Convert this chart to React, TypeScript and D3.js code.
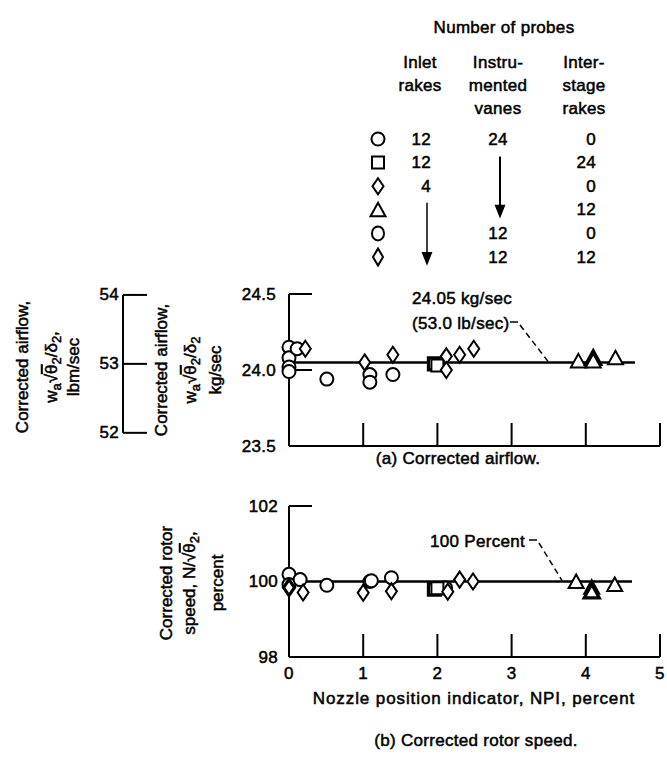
import React from "react";
import * as d3 from "d3";

// ---------- data ----------
const xTicks = [0, 1, 2, 3, 4, 5];
const airTicks = [24.5, 24.0, 23.5];
const lbmTicks = [54, 53, 52];
const rotorTicks = [102, 100, 98];

const airflowRef = 24.05;
const rotorRef = 100;

type Pt = { x: number; y: number; solid?: boolean };

const airCircles: Pt[] = [
  { x: 0, y: 24.15 }, { x: 0, y: 24.08 }, { x: 0, y: 24.02 }, { x: 0, y: 23.99 },
  { x: 0.11, y: 24.14 }, { x: 0.51, y: 23.94 }, { x: 1.09, y: 23.97 }, { x: 1.09, y: 23.92 },
  { x: 1.4, y: 23.97 },
];
const airSquares: Pt[] = [{ x: 1.96, y: 24.04, solid: true }, { x: 2.0, y: 24.03 }];
const airDiamonds: Pt[] = [
  { x: 0.22, y: 24.14 }, { x: 1.02, y: 24.05 }, { x: 1.4, y: 24.1 }, { x: 2.12, y: 24.09 },
  { x: 2.12, y: 24.0 }, { x: 2.3, y: 24.1 }, { x: 2.49, y: 24.14 },
];
const airTriangles: Pt[] = [
  { x: 3.9, y: 24.06 }, { x: 4.1, y: 24.08, solid: true }, { x: 4.1, y: 24.06 }, { x: 4.4, y: 24.08 },
];

const rotCircles: Pt[] = [
  { x: 0, y: 100.19 }, { x: 0, y: 99.92 }, { x: 0.15, y: 100.05 }, { x: 0.51, y: 99.9 },
  { x: 1.09, y: 100.0 }, { x: 1.11, y: 100.02 }, { x: 1.38, y: 100.1 }, { x: 2.08, y: 99.83 },
  { x: 2.11, y: 99.83 },
];
const rotSquares: Pt[] = [{ x: 1.96, y: 99.8, solid: true }, { x: 2.0, y: 99.82 }];
const rotDiamonds: Pt[] = [
  { x: 0, y: 99.84, solid: true }, { x: 0.19, y: 99.71 }, { x: 1.0, y: 99.7 }, { x: 1.38, y: 99.74 },
  { x: 2.14, y: 99.73 }, { x: 2.3, y: 100.05 }, { x: 2.48, y: 100.0 },
];
const rotTriangles: Pt[] = [
  { x: 3.87, y: 100.0 }, { x: 4.08, y: 99.85 }, { x: 4.08, y: 99.74, solid: true }, { x: 4.39, y: 99.92 },
];

const legendSymbols = ["circle", "square", "diamond", "triangle", "circleTall", "diamondTall"];
const legendInlet = ["12", "12", "4", "", "", ""];
const legendVanes = ["24", "", "", "", "12", "12"];
const legendInterstage = ["0", "24", "0", "12", "0", "12"];

const LB_TO_KG = 0.45359;

// ---------- layout ----------
const X0 = 289;
const X5 = 660;
const xScale = d3.scaleLinear().domain([0, 5]).range([X0, X5]);
const yAir = d3.scaleLinear().domain([23.5, 24.5]).range([446, 294]);
const yRot = d3.scaleLinear().domain([98, 102]).range([657, 506]);
const legendY = d3.scaleLinear().domain([0, 5]).range([139, 257]);

const FONT = "'Liberation Sans', Arial, sans-serif";
const FS = 17;

function shapePath(kind: string): string {
  switch (kind) {
    case "square":
      return "M-6,-6H6V6H-6Z";
    case "diamond":
      return "M0,-8L5.5,0L0,8L-5.5,0Z";
    case "diamondTall":
      return "M0,-8.5L5,0L0,8.5L-5,0Z";
    case "triangle":
      return "M0,-7L7.5,6.5L-7.5,6.5Z";
    default:
      return "";
  }
}

function Marker({ kind, x, y, solid }: { kind: string; x: number; y: number; solid?: boolean }) {
  const common = { stroke: "#000", strokeWidth: solid ? 3.2 : 2, fill: "#fff" };
  if (kind === "circle") return <circle cx={x} cy={y} r={6.5} {...common} />;
  if (kind === "circleTall") return <ellipse cx={x} cy={y} rx={6} ry={7} {...common} />;
  return <path d={shapePath(kind)} transform={`translate(${x},${y})`} {...common} />;
}

function Series({ pts, kind, y }: { pts: Pt[]; kind: string; y: d3.ScaleLinear<number, number> }) {
  return (
    <g>
      {pts.map((p, i) => (
        <Marker key={i} kind={kind} x={xScale(p.x)} y={y(p.y)} solid={p.solid} />
      ))}
    </g>
  );
}

function Frame({ y, top, bottom }: { y: d3.ScaleLinear<number, number>; top: number; bottom: number }) {
  const yTop = y(top);
  const yBot = y(bottom);
  return (
    <g stroke="#000" strokeWidth={2} fill="none">
      <line x1={X0} x2={X0} y1={yTop} y2={yBot} />
      <line x1={X0} x2={X5} y1={yBot} y2={yBot} />
      {xTicks.slice(1).map((t) => (
        <line key={t} x1={xScale(t)} x2={xScale(t)} y1={yBot} y2={yBot - 23} />
      ))}
    </g>
  );
}

function RefText({ children, x, y, anchor = "start", ls = 0.3 }: any) {
  return (
    <text x={x} y={y} fontFamily={FONT} fontSize={FS} textAnchor={anchor} dominantBaseline="central"
      fill="#000" stroke="#000" strokeWidth={0.5} letterSpacing={ls}>
      {children}
    </text>
  );
}

function RotText({ x, y, children }: any) {
  return (
    <text transform={`translate(${x},${y}) rotate(-90)`} textAnchor="middle" fontFamily={FONT}
      fontSize={FS} fill="#000" stroke="#000" strokeWidth={0.5}>
      {children}
    </text>
  );
}

function FlowFormula({ comma }: { comma: boolean }) {
  return (
    <>
      <tspan>w</tspan>
      <tspan fontSize={13} dy={4}>a</tspan>
      <tspan dy={-4}>√</tspan>
      <tspan style={{ textDecoration: "overline" }}>θ</tspan>
      <tspan fontSize={13} dy={4}>2</tspan>
      <tspan dy={-4}>/δ</tspan>
      <tspan fontSize={13} dy={4}>2</tspan>
      {comma ? <tspan dy={-4}>,</tspan> : null}
    </>
  );
}

export default function App() {
  const ayTop = yAir(24.5);
  const ryTop = yRot(102);
  return (
    <svg width={667} height={758} style={{ display: "block", position: "absolute", left: 0, top: 0 }}>
      <rect width={667} height={758} fill="#fff" />

      {/* ---------- legend ---------- */}
      <RefText x={504} y={27} anchor="middle">Number of probes</RefText>
      <RefText x={420} y={62} anchor="middle">Inlet</RefText>
      <RefText x={420} y={85} anchor="middle">rakes</RefText>
      <RefText x={498} y={62} anchor="middle">Instru-</RefText>
      <RefText x={498} y={85} anchor="middle">mented</RefText>
      <RefText x={498} y={108} anchor="middle">vanes</RefText>
      <RefText x={584} y={62} anchor="middle">Inter-</RefText>
      <RefText x={584} y={85} anchor="middle">stage</RefText>
      <RefText x={584} y={108} anchor="middle">rakes</RefText>
      {legendSymbols.map((s, i) => (
        <g key={i}>
          <Marker kind={s} x={378} y={legendY(i)} />
          {legendInlet[i] && <RefText x={431} y={legendY(i)} anchor="end">{legendInlet[i]}</RefText>}
          {legendVanes[i] && <RefText x={498} y={legendY(i)} anchor="middle">{legendVanes[i]}</RefText>}
          <RefText x={596} y={legendY(i)} anchor="end">{legendInterstage[i]}</RefText>
        </g>
      ))}
      {/* arrows */}
      <g stroke="#000" strokeWidth={2} fill="#000">
        <line x1={427} x2={427} y1={legendY(3) - 7} y2={legendY(5) + 2} strokeWidth={1.5} />
        <path d={`M${423},${legendY(5) - 4}L${431},${legendY(5) - 4}L${427},${legendY(5) + 6}Z`} />
        <line x1={500} x2={500} y1={legendY(1) - 6} y2={legendY(3) + 2} />
        <path d={`M${496},${legendY(3) - 4}L${504},${legendY(3) - 4}L${500},${legendY(3) + 6}Z`} />
      </g>

      {/* ---------- (a) airflow ---------- */}
      <Frame y={yAir} top={24.5} bottom={23.5} />
      <g stroke="#000" strokeWidth={2}>
        <line x1={X0} x2={X0 + 23} y1={ayTop} y2={ayTop} />
        <line x1={X0} x2={X0 + 23} y1={yAir(24.0)} y2={yAir(24.0)} />
        <line x1={X0} x2={635} y1={yAir(airflowRef)} y2={yAir(airflowRef)} strokeWidth={2.5} />
      </g>
      {airTicks.map((t) => (
        <RefText key={t} x={276} y={yAir(t)} anchor="end">{t.toFixed(1)}</RefText>
      ))}
      {/* lbm/sec axis */}
      <g stroke="#000" strokeWidth={2}>
        <line x1={123} x2={123} y1={yAir(54 * LB_TO_KG)} y2={yAir(52 * LB_TO_KG)} />
        {lbmTicks.map((t) => (
          <line key={t} x1={123} x2={147} y1={yAir(t * LB_TO_KG)} y2={yAir(t * LB_TO_KG)} />
        ))}
      </g>
      {lbmTicks.map((t) => (
        <RefText key={t} x={119} y={yAir(t * LB_TO_KG)} anchor="end">{t}</RefText>
      ))}
      <RotText x={28} y={367}>Corrected airflow,</RotText>
      <RotText x={57} y={367}><FlowFormula comma={true} /></RotText>
      <RotText x={79} y={367}>lbm/sec</RotText>
      <RotText x={167} y={370}>Corrected airflow,</RotText>
      <RotText x={196} y={370}><FlowFormula comma={false} /></RotText>
      <RotText x={221} y={370}>kg/sec</RotText>

      <Series pts={airCircles} kind="circle" y={yAir} />
      <Series pts={airSquares} kind="square" y={yAir} />
      <Series pts={airDiamonds} kind="diamond" y={yAir} />
      <Series pts={airTriangles} kind="triangle" y={yAir} />

      <RefText x={412} y={298}>24.05 kg/sec</RefText>
      <RefText x={412} y={323}>(53.0 lb/sec)</RefText>
      <g stroke="#000" strokeWidth={1.5} fill="none">
        <line x1={510} x2={518} y1={322} y2={322} />
        <line x1={520} x2={548} y1={325} y2={yAir(airflowRef) - 1} strokeDasharray="6,4" />
      </g>
      <RefText x={458} y={458} anchor="middle">(a) Corrected airflow.</RefText>

      {/* ---------- (b) rotor speed ---------- */}
      <Frame y={yRot} top={102} bottom={98} />
      <g stroke="#000" strokeWidth={2}>
        <line x1={X0} x2={X0 + 23} y1={ryTop} y2={ryTop} />
        <line x1={X0} x2={632} y1={yRot(rotorRef)} y2={yRot(rotorRef)} strokeWidth={2.5} />
      </g>
      {rotorTicks.map((t) => (
        <RefText key={t} x={278} y={yRot(t)} anchor="end">{t}</RefText>
      ))}
      <RotText x={172} y={583}>Corrected rotor</RotText>
      <RotText x={195} y={583}>
        <tspan>speed, N/√</tspan>
        <tspan style={{ textDecoration: "overline" }}>θ</tspan>
        <tspan fontSize={13} dy={4}>2</tspan>
        <tspan dy={-4}>,</tspan>
      </RotText>
      <RotText x={223} y={583}>percent</RotText>

      <Series pts={rotCircles} kind="circle" y={yRot} />
      <Series pts={rotSquares} kind="square" y={yRot} />
      <Series pts={rotDiamonds} kind="diamond" y={yRot} />
      <Series pts={rotTriangles} kind="triangle" y={yRot} />

      <RefText x={430} y={541}>100 Percent</RefText>
      <g stroke="#000" strokeWidth={1.5} fill="none">
        <line x1={529} x2={537} y1={540} y2={540} />
        <line x1={539} x2={562} y1={543} y2={yRot(rotorRef) - 1} strokeDasharray="6,4" />
      </g>

      {xTicks.map((t) => (
        <RefText key={t} x={xScale(t)} y={673} anchor="middle">{t}</RefText>
      ))}
      <RefText x={474} y={698} anchor="middle" ls={0.9}>Nozzle position indicator, NPI, percent</RefText>
      <RefText x={476} y={740} anchor="middle">(b) Corrected rotor speed.</RefText>
    </svg>
  );
}
